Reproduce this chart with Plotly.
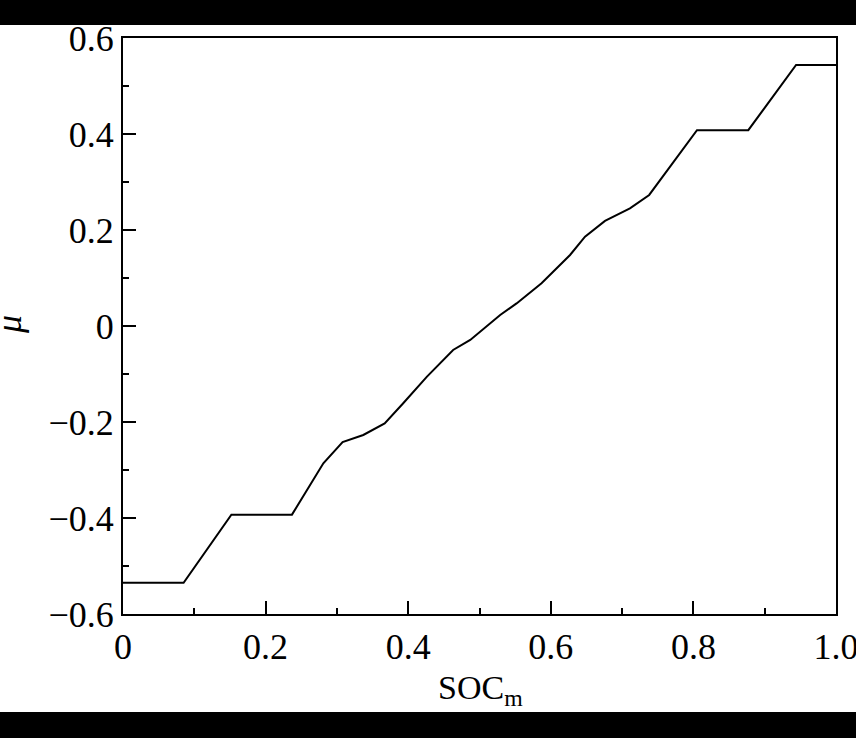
import plotly.graph_objects as go

soc = [0, 0.085, 0.152, 0.237, 0.281, 0.308, 0.337, 0.367, 0.393, 0.426, 0.463, 0.487,
       0.529, 0.552, 0.587, 0.627, 0.648, 0.676, 0.711, 0.738, 0.805, 0.877, 0.944, 1.0]
mu = [-0.535, -0.535, -0.393, -0.393, -0.286, -0.242, -0.227, -0.203, -0.161, -0.106, -0.05, -0.029,
      0.023, 0.047, 0.089, 0.148, 0.186, 0.219, 0.245, 0.273, 0.408, 0.408, 0.544, 0.544]

x_tickvals = [0, 0.2, 0.4, 0.6, 0.8, 1.0]
x_ticktext = ["0", "0.2", "0.4", "0.6", "0.8", "1.0"]
y_tickvals = [-0.6, -0.4, -0.2, 0, 0.2, 0.4, 0.6]
y_ticktext = ["\u22120.6", "\u22120.4", "\u22120.2", "0", "0.2", "0.4", "0.6"]

FONT = "Liberation Serif"

fig = go.Figure()
fig.add_trace(go.Scatter(x=soc, y=mu, mode="lines",
                         line=dict(color="black", width=2), showlegend=False))

W, H = 856, 738
L, R, T, B = 123, 20, 38, 124
pw, ph = W - L - R, H - T - B

axis_common = dict(
    showgrid=False, zeroline=False, showline=True, linecolor="black", linewidth=2,
    mirror=True, ticks="inside", ticklen=13, tickwidth=1.5, tickcolor="black",
    tickfont=dict(family=FONT, size=36, color="black"), ticklabeloverflow="allow",
    automargin=False,
)

fig.update_xaxes(range=[0, 1.0], tickvals=x_tickvals, ticktext=x_ticktext,
                 minor=dict(ticks="inside", ticklen=6, tickwidth=1.5, tickcolor="black",
                            dtick=0.1, tick0=0), **axis_common)
fig.update_yaxes(range=[-0.6, 0.6], tickvals=y_tickvals, ticktext=y_ticktext,
                 minor=dict(ticks="inside", ticklen=6, tickwidth=1.5, tickcolor="black",
                            dtick=0.1, tick0=0), **axis_common)

fig.add_annotation(text="SOC<sub>m</sub>", xref="paper", yref="paper",
                   x=(480 - L) / pw, y=(H - B - 713) / ph, xanchor="center", yanchor="bottom",
                   showarrow=False, font=dict(family=FONT, size=34, color="black"))
fig.add_annotation(text="<i>\u03bc</i>", xref="paper", yref="paper",
                   x=(9 - L) / pw, y=(H - B - 325) / ph, xanchor="center", yanchor="middle",
                   textangle=-90, showarrow=False, font=dict(family=FONT, size=36, color="black"))

# black bars at top and bottom of the image
fig.add_shape(type="rect", xref="paper", yref="paper",
              x0=-L / pw, x1=(W - L) / pw, y0=(H - B - 25) / ph, y1=(H - B) / ph,
              fillcolor="black", line=dict(width=0), layer="above")
fig.add_shape(type="rect", xref="paper", yref="paper",
              x0=-L / pw, x1=(W - L) / pw, y0=(H - B - H) / ph, y1=(H - B - 712) / ph,
              fillcolor="black", line=dict(width=0), layer="above")

fig.update_layout(width=W, height=H, margin=dict(l=L, r=R, t=T, b=B, autoexpand=False),
                  plot_bgcolor="white", paper_bgcolor="white",
                  font=dict(family=FONT, color="black"))

fig.write_html(
    "out.html",
    config={"displayModeBar": False, "responsive": False},
    post_script=("document.body.style.margin='0';document.body.style.overflow='hidden';"
                 "Plotly.relayout('{plot_id}', {width: 856, height: 738});"),
)
